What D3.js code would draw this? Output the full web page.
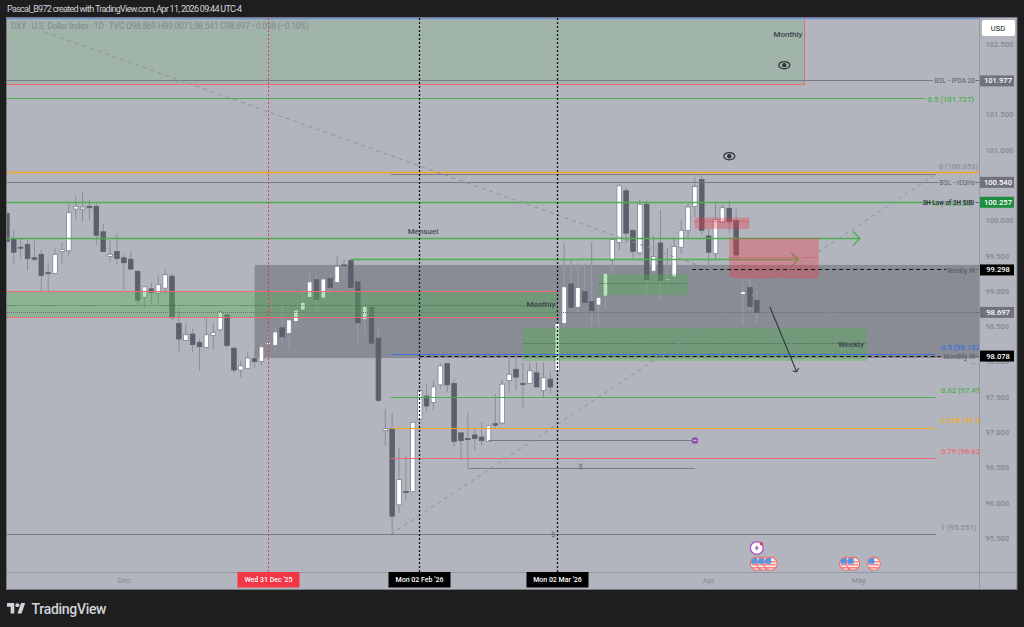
<!DOCTYPE html>
<html><head><meta charset="utf-8">
<script src="https://cdn.jsdelivr.net/npm/d3@7"></script>
<style>
html,body{margin:0;padding:0;background:#1e1e1e;overflow:hidden}
svg{display:block}
text{font-family:Roboto,"Liberation Sans",sans-serif}
</style></head><body>
<script>
// ---- candle data ----
const opens=[100.10,99.74,99.62,99.66,99.47,99.52,99.26,99.25,99.56,99.57,100.16,100.16,100.20,100.20,99.84,99.49,99.56,99.47,99.45,99.28,98.91,99.03,98.97,99.04,99.21,98.54,98.30,98.39,98.27,98.20,98.37,98.45,98.66,98.19,97.88,97.90,98.04,98.00,98.24,98.23,98.48,98.40,98.57,98.73,98.91,99.16,98.90,99.18,99.12,99.37,99.43,99.13,98.60,98.77,98.33,97.02,97.05,95.97,96.16,96.16,97.18,97.51,97.42,97.67,97.97,97.69,96.99,96.91,96.96,96.93,96.87,97.12,97.13,97.73,97.89,97.69,97.69,97.84,97.59,97.75,97.87,98.54,99.10,98.77,98.99,98.85,98.80,98.93,99.44,99.69,100.42,99.86,99.54,100.23,99.28,99.68,99.15,99.20,99.62,99.86,100.20,100.58,99.78,99.53,99.97,100.17,100.00,98.95,99.05,98.869];
const highs=[100.13,99.87,99.75,99.73,99.71,99.59,99.40,99.60,99.69,100.24,100.35,100.39,100.29,100.24,99.95,99.71,99.81,99.51,99.57,99.28,99.06,99.12,99.22,99.31,99.25,98.76,98.53,98.47,98.32,98.64,98.55,98.73,98.69,98.19,98.01,98.13,98.18,98.26,98.45,98.49,98.85,98.60,98.73,99.00,99.26,99.24,99.21,99.24,99.50,99.46,99.46,99.13,98.86,98.77,98.47,97.33,97.28,96.78,96.67,97.14,97.59,97.68,97.74,97.98,97.98,97.75,96.99,97.27,97.07,97.15,97.09,97.54,97.74,98.06,98.06,97.98,97.98,97.99,97.98,97.86,98.54,99.68,99.44,99.40,99.39,99.69,98.91,99.25,99.73,100.53,100.47,99.86,100.29,100.30,99.79,100.15,99.61,99.75,100.01,100.24,100.61,100.64,99.89,100.26,100.22,100.28,100.16,99.13,99.16,99.007];
const lows=[99.69,99.39,99.45,99.29,99.42,98.98,98.99,99.25,99.39,99.49,100.02,99.98,100.01,99.65,99.56,99.40,99.37,99.01,99.31,98.80,98.77,98.81,98.80,98.95,98.59,98.13,98.30,98.13,97.87,98.18,98.17,98.42,98.20,97.84,97.76,97.90,97.91,97.94,98.24,98.14,98.25,98.17,98.50,98.73,98.91,98.69,98.90,98.97,99.12,99.18,99.02,98.25,98.38,98.26,97.43,96.81,95.55,95.85,96.02,96.16,97.18,97.29,97.30,97.61,97.56,96.80,96.61,96.49,96.75,96.81,96.87,97.06,97.13,97.58,97.59,97.35,97.69,97.64,97.48,97.55,97.87,98.45,98.77,98.70,98.84,98.50,98.50,98.73,99.25,99.58,99.67,99.46,99.51,98.97,99.26,98.87,99.09,99.09,99.53,99.75,100.05,99.80,99.30,99.44,99.96,99.82,99.44,98.52,98.73,98.541];
const closes=[99.70,99.55,99.61,99.46,99.45,99.22,99.25,99.52,99.59,100.11,100.20,100.19,100.18,99.79,99.56,99.52,99.46,99.40,99.31,98.87,99.06,98.98,99.09,99.23,98.62,98.32,98.38,98.24,98.21,98.38,98.41,98.71,98.23,97.88,97.94,98.05,98.00,98.21,98.27,98.42,98.35,98.59,98.73,98.84,99.13,98.88,99.17,99.05,99.35,99.36,99.05,98.55,98.78,98.26,97.45,97.05,95.81,96.33,96.15,97.14,97.59,97.37,97.64,97.94,97.67,96.87,96.88,96.90,96.91,96.88,97.09,97.10,97.68,97.82,97.78,97.68,97.87,97.64,97.77,97.64,98.54,99.06,98.77,99.05,98.84,98.72,98.91,99.25,99.73,100.49,99.82,99.56,100.23,99.16,99.49,99.15,99.17,99.63,99.86,100.19,100.48,99.86,99.55,100.01,100.18,99.98,99.51,98.99,98.78,98.697];

// ---- axes ----
const priceTicks=[102.5,101.5,101,100,99.5,99,98.5,98,97.5,97,96.5,96,95.5];
const monthLabels=["Dec","Apr","May"];
const monthBars=[17,102,123.8];
const dateLabels=["Wed 31 Dec '25","Mon 02 Feb '26","Mon 02 Mar '26"];
const dateBars=[38,60,80];
const tagPrices=[101.977,100.54,100.257,99.298,98.697,98.078];

// ---- horizontal levels: price, first bar, last bar ----
const levelNames=["orange","ipda","fib05up","fib0","eqh","sibi","fib05","fib062","fib705","fib79","fib1","mid1","mid2"];
const levelPrices=[100.68,101.977,101.727,100.653,100.54,100.257,98.102,97.49,97.055,96.62,95.551,96.88,96.49];
const levelFrom=[-1,-1,-1,55.8,-1,-1,55.8,55.8,55.8,55.8,-1,70,67];
const levelTo=[141.3,134.6,133.5,135,135.4,135,135,135,135,135,135,99.7,100];

// ---- boxes: bars and price ranges ----
const boxGreenFrom=[-1,-1,74.9,86.1];
const boxGreenTo=[116,80,125,98.9];
const boxGreenTop=[102.87,98.99,98.48,99.24];
const boxGreenBottom=[101.92,98.63,98.01,98.94];
const boxGreenMid=[102.64,98.80,98.25,99.10];
const boxPinkFrom=[100,105];
const boxPinkTo=[107.9,118];
const boxPinkTop=[100.04,99.75];
const boxPinkBottom=[99.88,99.18];
const boxPinkMid=[99.98,99.47];
const premiumBox=[36,141.3,99.37,98.05];

// ---- other drawings ----
const arrowLevels=[99.75,99.44];
const arrowFrom=[-1,50];
const arrowTo=[124,115];
const fibDiagonal=[[55.8,95.551],[135,100.653]];
const fallingDash=[[5.5,102.67],[141.1,97.95]];
const downArrow=[[110.9,98.775],[114.8,97.854]];
const weeklyIR=[99.298,99.6,136.5];
const monthlyIR=[98.078,60,135.7];
const eyeBars=[113,105];
const eyePrices=[102.2,100.91];
const usEventBars=[109,110,111,122,123,126];
const newsBar=109;

const W=1024,H=627,L=6.5,R=979.5,T=18.5,B=572.5,PR=1017;
const x=d3.scaleLinear().domain([0,109]).range([6.9,756.8]);
const y=d3.scaleLinear().domain([95.5,102.5]).range([538,44]);
const snap=v=>Math.floor(v)+.5;
const c={bg:"#b2b5be",grid:"#9598a1",txt:"#787b86",dark:"#5d606b",green:"#4caf50",red:"#ef6a73",orange:"#f5a623",blue:"#3f6fe0",gray:"#787b86"};

const svg=d3.select("body").append("svg").attr("width",W).attr("height",H);
svg.append("rect").attr("width",W).attr("height",H).attr("fill","#1e1e1e");
svg.append("text").attr("x",7).attr("y",12).attr("fill","#d1d4dc").attr("font-size",9).attr("textLength",235).text("Pascal_B972 created with TradingView.com, Apr 11, 2026 09:44 UTC-4");
svg.append("rect").attr("x",L).attr("y",17.5).attr("width",PR-L).attr("height",572).attr("fill",c.bg).attr("stroke",c.txt);
const defs=svg.append("defs");
defs.append("clipPath").attr("id","plot").append("rect").attr("x",7).attr("y",18).attr("width",972.5).attr("height",554.5);
defs.append("clipPath").attr("id","zone").append("rect").attr("x",x(premiumBox[0])).attr("width",x(premiumBox[1])-x(premiumBox[0]))
 .attr("y",y(premiumBox[2])).attr("height",y(premiumBox[3])-y(premiumBox[2]));
const g=svg.append("g").attr("clip-path","url(#plot)");

// gray zone behind candles
g.append("rect").attr("x",x(premiumBox[0])).attr("width",x(premiumBox[1])-x(premiumBox[0]))
 .attr("y",y(premiumBox[2])).attr("height",y(premiumBox[3])-y(premiumBox[2])).attr("fill","#50535e").attr("opacity",.42);

// candles
const bars=d3.range(opens.length);
const bw=4.6;
g.selectAll("line.w").data(bars).join("line").attr("class","w")
 .attr("x1",i=>x(i)).attr("x2",i=>x(i)).attr("y1",i=>y(highs[i])).attr("y2",i=>y(lows[i]))
 .attr("stroke","#8a8d97").attr("stroke-width",1);
// wicks read lighter inside the gray zone
g.append("g").attr("clip-path","url(#zone)").selectAll("line").data(bars).join("line")
 .attr("x1",i=>x(i)).attr("x2",i=>x(i)).attr("y1",i=>y(highs[i])).attr("y2",i=>y(lows[i]))
 .attr("stroke","#9b9ea8").attr("stroke-width",1);
g.selectAll("rect.b").data(bars).join("rect").attr("class","b")
 .attr("x",i=>x(i)-bw/2).attr("width",bw)
 .attr("y",i=>y(Math.max(opens[i],closes[i])))
 .attr("height",i=>Math.max(1,Math.abs(y(opens[i])-y(closes[i]))))
 .attr("fill",i=>closes[i]>=opens[i]?"#ffffff":c.dark)
 .attr("stroke",i=>closes[i]>=opens[i]?"#80838d":c.dark).attr("stroke-width",.8);

// green boxes
boxGreenFrom.forEach((f,k)=>{
 g.append("rect").attr("x",x(f)).attr("width",x(boxGreenTo[k])-x(f)).attr("y",y(boxGreenTop[k]))
  .attr("height",y(boxGreenBottom[k])-y(boxGreenTop[k])).attr("fill",c.green).attr("fill-opacity",k===0?.18:.38);
 g.append("line").attr("x1",x(f)).attr("x2",k===0?x(109):x(boxGreenTo[k])).attr("y1",snap(y(boxGreenMid[k]))).attr("y2",snap(y(boxGreenMid[k])))
  .attr("stroke",k===0?"#7fbf83":"#3d6b4a").attr("stroke-dasharray","1 1.5").attr("stroke-width",1);
});
function hArrow(k){
 const xe=x(arrowTo[k]),ye=snap(y(arrowLevels[k]));
 g.append("line").attr("x1",x(arrowFrom[k])).attr("x2",xe).attr("y1",ye).attr("y2",ye).attr("stroke",c.green).attr("stroke-width",1.3);
 g.append("path").attr("d",`M${xe-7},${ye-7}L${xe},${ye}L${xe-7},${ye+7}`).attr("fill","none").attr("stroke",c.green).attr("stroke-width",1.3);
}
hArrow(0);hArrow(1);
// pink boxes
boxPinkFrom.forEach((f,k)=>{
 g.append("rect").attr("x",x(f)).attr("width",x(boxPinkTo[k])-x(f)).attr("y",y(boxPinkTop[k]))
  .attr("height",y(boxPinkBottom[k])-y(boxPinkTop[k])).attr("fill","#f23645").attr("fill-opacity",.34);
 g.append("line").attr("x1",x(f)).attr("x2",x(boxPinkTo[k])).attr("y1",snap(y(boxPinkMid[k]))).attr("y2",snap(y(boxPinkMid[k])))
  .attr("stroke","#c2505c").attr("stroke-dasharray","1 1.5");
});
// red outlines of the Monthly boxes
const edge=(a,b,cc,w)=>g.append("line").attr("x1",a[0]).attr("y1",a[1]).attr("x2",b[0]).attr("y2",b[1]).attr("stroke",cc).attr("stroke-width",w||1);
edge([x(-1),snap(y(boxGreenBottom[0]))],[x(116),snap(y(boxGreenBottom[0]))],c.red,1);
edge([snap(x(116)),18],[snap(x(116)),y(boxGreenBottom[0])],c.red,1);
edge([x(-1),snap(y(boxGreenTop[1]))],[x(80),snap(y(boxGreenTop[1]))],c.red);
edge([x(-1),snap(y(boxGreenBottom[1]))],[x(80),snap(y(boxGreenBottom[1]))],c.red);
edge([6,18.5],[979,18.5],"#6f8fe0",1.4);

// horizontal levels
const levelColor={orange:c.orange,ipda:c.gray,fib05up:c.green,fib0:c.gray,eqh:c.gray,sibi:c.green,fib05:c.blue,fib062:c.green,fib705:c.orange,fib79:c.red,fib1:c.gray,mid1:c.gray,mid2:c.gray};
levelNames.forEach((n,k)=>{
 const py=snap(y(levelPrices[k]));
 g.append("line").attr("x1",x(levelFrom[k])).attr("x2",x(levelTo[k])).attr("y1",py).attr("y2",py)
  .attr("stroke",levelColor[n]).attr("stroke-width",n==="orange"||n==="sibi"?1.3:1.15);
});
// last price dotted
edge([7,snap(y(closes[109]))],[979,snap(y(closes[109]))],"#6a6d78",1).attr("stroke-dasharray","1 1");
// dashed IR lines
[weeklyIR,monthlyIR].forEach(a=>edge([x(a[1]),snap(y(a[0]))],[x(a[2]),snap(y(a[0]))],"#111",1).attr("stroke-dasharray","4 3"));
// diagonals
[fibDiagonal,fallingDash].forEach(a=>edge([x(a[0][0]),y(a[0][1])],[x(a[1][0]),y(a[1][1])],"#8e919b",1).attr("stroke-dasharray","4 4"));
// verticals
dateBars.forEach((b,k)=>edge([snap(x(b)),18],[snap(x(b)),572],k===0?"#f23645":"#111",k===0?1:1.3).attr("stroke-dasharray","2 2"));
// black arrow
const ax1=x(downArrow[0][0]),ay1=y(downArrow[0][1]),ax2=x(downArrow[1][0]),ay2=y(downArrow[1][1]);
edge([ax1,ay1],[ax2,ay2],"#2a2e39",1.1);
g.append("path").attr("d",`M${ax2-4},${ay2-1}L${ax2},${ay2}L${ax2+2},${ay2-4}`).attr("fill","none").attr("stroke","#2a2e39");

// eyes
eyeBars.forEach((b,k)=>{
 const e=g.append("g").attr("transform",`translate(${x(b)},${y(eyePrices[k])})`);
 e.append("ellipse").attr("rx",5.5).attr("ry",3.6).attr("fill","none").attr("stroke","#333640").attr("stroke-width",1.3);
 e.append("circle").attr("r",2.2).attr("fill","#333640");
});

// chart labels
const lab=(t,px,py,col,size,anchor,weight)=>svg.append("text").attr("x",px).attr("y",py).attr("fill",col).attr("font-size",size)
  .attr("text-anchor",anchor||"start").attr("font-weight",weight||400).attr("dominant-baseline","central").text(t);
lab("Mensuel",423,231,"#4a4d58",8,"middle",500);
lab("Monthly",541,304,"#3e414c",8,"middle",500);
lab("Monthly",788,34,"#3e414c",8,"middle",500);
lab("Weekly",851,344,"#3e414c",8,"middle",500);
lab("BSL - IPDA 20",975,81,"#6a6d78",6.5,"end",500);
lab("0.5 (101.727)",974,99,"#4caf50",7.7,"end",500);
lab("0 (100.653)",978,166,"#8a8d97",7.5,"end",500);
lab("BSL - rEQHs",975,182.5,"#6a6d78",6.5,"end",500);
lab("0 (100.258)",973,203,"#4caf50",7.5,"end");
lab("3H Low of 3H SIBI",974,203,"#2a2e39",6.3,"end",600);
lab("Weekly IR",975,270.5,"#5d606b",6.5,"end",500);
lab("0.5 (98.102",941,347,c.blue,7.6,"start",500);
lab("Monthly IR",975,356.5,"#5d606b",6.5,"end",500);
lab("0.62 (97.49",941,390,"#4caf50",7.6,"start",500);
lab("0.705 (97.0",941,420.5,c.orange,7.6,"start",500);
lab("0.79 (96.62",941,451.5,c.red,7.6,"start",500);
lab("1 (95.551)",941,527,"#8a8d97",7.6,"start",500);
lab("$",x(83.4),467,"#555862",7,"middle");
lab("$",x(79.4),534.5,"#555862",7,"middle");

// purple marker
svg.append("rect").attr("x",x(100)-3).attr("y",y(96.88)-3).attr("width",6).attr("height",6).attr("rx",1.5).attr("fill","#8e44ad");
svg.append("rect").attr("x",x(100)-1.8).attr("y",y(96.88)-.8).attr("width",3.6).attr("height",1).attr("fill","#e6d6f2");

// legend
const lg=svg.append("text").attr("x",11).attr("y",26).attr("fill","#858891").attr("font-size",8.5).attr("dominant-baseline","central").attr("textLength",298);
lg.text("DXY · U.S. Dollar Index · 1D · TVC  O98.869  H99.007  L98.541  C98.697  −0.098 (−0.10%)");

// price axis
svg.append("line").attr("x1",979.5).attr("x2",979.5).attr("y1",18).attr("y2",589).attr("stroke",c.grid);
svg.append("line").attr("x1",L).attr("x2",PR).attr("y1",B).attr("y2",B).attr("stroke",c.grid);
const ax=svg.append("g").attr("transform","translate(979.5,0)").call(d3.axisRight(y).tickValues(priceTicks).tickFormat(d3.format(".3f")).tickSize(0).tickPadding(6));
ax.select(".domain").remove();
ax.selectAll("text").attr("fill","#838690").attr("font-size",7.5).attr("font-family","Roboto,sans-serif").attr("font-weight",500);

// price tags
const tagFill=["#6f727d","#6f727d","#1e8e3e","#000","#6f727d","#000"];
tagPrices.forEach((p,k)=>{
 const py=y(p);
 svg.append("rect").attr("x",980).attr("y",py-5.5).attr("width",34).attr("height",11).attr("fill",tagFill[k]);
 svg.append("text").attr("x",998).attr("y",py).attr("text-anchor","middle").attr("dominant-baseline","central").attr("fill","#fff").attr("font-size",7.6).attr("font-weight",500).text(p.toFixed(3));
 svg.append("line").attr("x1",975.5).attr("x2",979).attr("y1",snap(py)).attr("y2",snap(py)).attr("stroke","#6a6d78");
});
// USD
svg.append("rect").attr("x",982).attr("y",20).attr("width",33).attr("height",16).attr("rx",2).attr("fill","#fff");
svg.append("text").attr("x",998).attr("y",28).attr("text-anchor","middle").attr("dominant-baseline","central").attr("fill","#131722").attr("font-size",7.6).text("USD");

// time axis labels
monthLabels.forEach((m,k)=>lab(m,x(monthBars[k]),580,"#838690",7.5,"middle"));
dateLabels.forEach((d,k)=>{
 const cx=snap(x(dateBars[k]));
 svg.append("rect").attr("x",cx-31).attr("y",572).attr("width",62).attr("height",15.5).attr("fill",k===0?"#f23645":"#000");
 svg.append("text").attr("x",cx).attr("y",580).attr("text-anchor","middle").attr("dominant-baseline","central").attr("fill","#fff").attr("font-size",7).attr("font-weight",500).text(d);
});

// event icons
usEventBars.forEach(b=>{
 const f=svg.append("g").attr("transform",`translate(${x(b)},563.7)`);
 f.append("circle").attr("r",6.6).attr("fill","#fbeaea").attr("stroke","#ee6c6c").attr("stroke-width",1.1);
 [-2.5,.5,3.5].forEach(d=>f.append("rect").attr("x",-5.2).attr("y",d).attr("width",10.4).attr("height",1.2).attr("fill","#ee6c6c"));
 f.append("path").attr("d","M-5.2,-3.6A6,6,0,0,1,-1,-5.6L.5,-5.6V0H-5.8Z").attr("fill","#4f94e6");
});
const nb=svg.append("g").attr("transform",`translate(${x(newsBar)},548)`);
nb.append("circle").attr("r",6.4).attr("fill","#fff").attr("stroke","#a64fc6").attr("stroke-width",1.3);
nb.append("path").attr("d","M1,-3.6L-2.2,.6H0L-1,3.6L2.2,-.6H0Z").attr("fill","#8e3fb0");
nb.append("circle").attr("cx",4.6).attr("cy",-4.3).attr("r",1.7).attr("fill","#f23645");

// logo
const logo=svg.append("g").attr("transform","translate(7,601.5) scale(.52)");
logo.append("path").attr("d","M14 3H0v7h7v13h7V3zM28 23h-8l7-20h8l-7 20z").attr("fill","#d1d4dc");
logo.append("circle").attr("cx",20).attr("cy",7).attr("r",3.8).attr("fill","#d1d4dc");
svg.append("text").attr("x",31.5).attr("y",608.5).attr("dominant-baseline","central").attr("fill","#d1d4dc").attr("font-size",14).attr("font-weight",500).attr("textLength",75).text("TradingView");
</script>
</body></html>
